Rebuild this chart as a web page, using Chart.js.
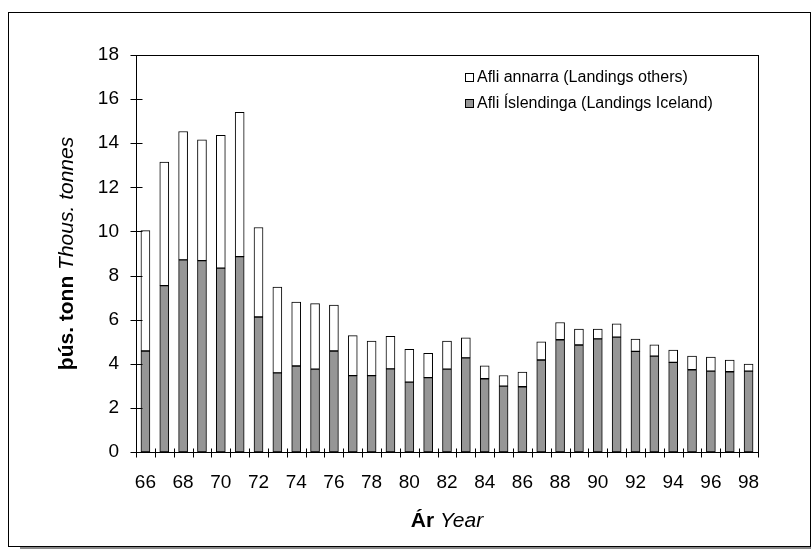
<!DOCTYPE html>
<html>
<head>
<meta charset="utf-8">
<title>Afli</title>
<script src="https://cdn.jsdelivr.net/npm/chart.js@4.4.1/dist/chart.umd.min.js"></script>
<style>
  html, body { margin: 0; padding: 0; background: #fff; overflow: hidden; }
  .frame {
    position: absolute; left: 8px; top: 12px; width: 803px; height: 535px;
    box-sizing: border-box; border: 1px solid #000; background: #fff;
    box-shadow: 12px 3px 0 #888;
  }
  .wrap { position: absolute; left: 0; top: 0; width: 811px; height: 549px; }
</style>
</head>
<body>
<div class="frame"></div>
<div class="wrap"><canvas id="chart"></canvas></div>
<script>
const years = ['66', '67', '68', '69', '70', '71', '72', '73', '74', '75', '76',
  '77', '78', '79', '80', '81', '82', '83', '84', '85', '86', '87', '88',
  '89', '90', '91', '92', '93', '94', '95', '96', '97', '98'];

// landings by Icelandic vessels, thousand tonnes
const landingsIceland = [4.58, 7.54, 8.71, 8.68, 8.34, 8.86, 6.12, 3.59, 3.90, 3.76, 4.58,
  3.46, 3.46, 3.77, 3.17, 3.37, 3.76, 4.27, 3.32, 2.99, 2.96, 4.17, 5.09,
  4.85, 5.13, 5.21, 4.56, 4.35, 4.06, 3.73, 3.67, 3.64, 3.67];

// landings by other nations, stacked on top
const landingsOthers = [5.46, 5.61, 5.82, 5.47, 6.02, 6.54, 4.06, 3.89, 2.90, 2.97, 2.08,
  1.82, 1.57, 1.47, 1.48, 1.10, 1.27, 0.91, 0.59, 0.48, 0.66, 0.83, 0.78,
  0.72, 0.44, 0.60, 0.56, 0.51, 0.56, 0.62, 0.63, 0.53, 0.32];

const yTicks = [0, 2, 4, 6, 8, 10, 12, 14, 16, 18];

const FONT = "'Liberation Sans', Arial, sans-serif";

// plot box, crossing tick marks, axis titles and the legend
const decorations = {
  id: 'decorations',
  afterDraw(chart) {
    const { ctx, chartArea: a, scales: { x, y } } = chart;
    const L = Math.round(a.left) + 0.5, R = Math.round(a.right) + 0.5;
    const T = Math.round(a.top) + 0.5, B = Math.round(a.bottom) + 0.5;
    ctx.save();
    ctx.strokeStyle = '#000';
    ctx.lineWidth = 1;
    ctx.strokeRect(L, T, R - L, B - T);

    ctx.beginPath();
    yTicks.forEach(v => {
      const py = Math.round(y.getPixelForValue(v)) + 0.5;
      ctx.moveTo(L - 6, py);
      ctx.lineTo(L + 6, py);
    });
    const step = x.width / years.length;
    for (let i = 0; i <= years.length; i++) {
      const px = Math.round(x.left + i * step) + 0.5;
      ctx.moveTo(px, B - 4);
      ctx.lineTo(px, B + 5);
    }
    ctx.stroke();

    // two-part titles: bold Icelandic, italic English
    const drawTitle = (bold, italic, cx, cy) => {
      ctx.font = 'bold 21px ' + FONT;
      const w1 = ctx.measureText(bold + ' ').width;
      ctx.font = 'italic 21px ' + FONT;
      const w2 = ctx.measureText(italic).width;
      let sx = cx - (w1 + w2) / 2;
      ctx.fillStyle = '#000';
      ctx.textBaseline = 'middle';
      ctx.textAlign = 'left';
      ctx.font = 'bold 21px ' + FONT;
      ctx.fillText(bold, sx, cy);
      ctx.font = 'italic 21px ' + FONT;
      ctx.fillText(italic, sx + w1, cy);
    };
    drawTitle('Ár', 'Year', (a.left + a.right) / 2, 521);
    ctx.save();
    ctx.translate(67, (a.top + a.bottom) / 2);
    ctx.rotate(-Math.PI / 2);
    drawTitle('þús. tonn', 'Thous. tonnes', 0, 0);
    ctx.restore();

    // legend, top series first
    ctx.font = '16px ' + FONT;
    ctx.textBaseline = 'middle';
    const items = chart.data.datasets.slice().reverse();
    items.forEach((ds, i) => {
      const cy = 78 + i * 26;
      ctx.fillStyle = ds.backgroundColor;
      ctx.fillRect(465, cy - 4, 8, 8);
      ctx.strokeStyle = '#000';
      ctx.strokeRect(465.5, cy - 4.5, 8, 8);
      ctx.fillStyle = '#000';
      ctx.fillText(ds.label, 477, cy);
    });
    ctx.restore();
  }
};

new Chart(document.getElementById('chart'), {
  type: 'bar',
  data: {
    labels: years,
    datasets: [
      {
        label: 'Afli Íslendinga (Landings Iceland)',
        data: landingsIceland,
        backgroundColor: '#969696',
        borderColor: '#000',
        borderWidth: 1,
        borderSkipped: false,
        barThickness: 9
      },
      {
        label: 'Afli annarra (Landings others)',
        data: landingsOthers,
        backgroundColor: '#ffffff',
        borderColor: '#000',
        borderWidth: 1,
        borderSkipped: false,
        barThickness: 9
      }
    ]
  },
  options: {
    responsive: true,
    maintainAspectRatio: false,
    animation: false,
    layout: { padding: { top: 55, right: 53, bottom: 0, left: 0 } },
    plugins: {
      legend: { display: false },
      tooltip: { enabled: false }
    },
    scales: {
      x: {
        stacked: true,
        afterFit: s => { s.height = 97; },
        grid: { display: false },
        border: { display: false },
        ticks: {
          autoSkip: false,
          maxRotation: 0,
          padding: 11,
          color: '#000',
          font: { family: FONT, size: 19 },
          callback: (v, i) => (i % 2 === 0 ? years[i] : '')
        }
      },
      y: {
        stacked: true,
        min: 0,
        max: 18,
        afterFit: s => { s.width = 136; },
        grid: { display: false },
        border: { display: false },
        ticks: {
          stepSize: 2,
          padding: 9,
          color: '#000',
          font: { family: FONT, size: 19 }
        }
      }
    }
  },
  plugins: [decorations]
});
</script>
</body>
</html>
